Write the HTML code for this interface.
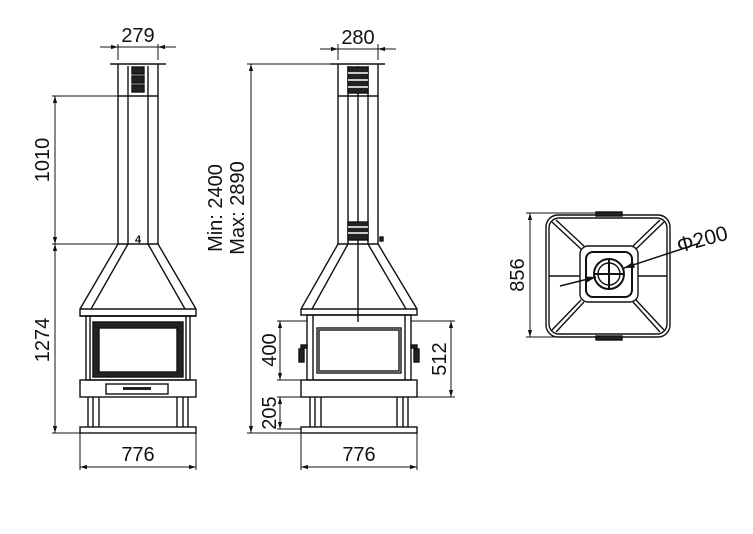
<!DOCTYPE html>
<html><head><meta charset="utf-8"><style>html,body{margin:0;padding:0;background:#fff}svg{display:block}</style></head>
<body>
<svg width="753" height="534" viewBox="0 0 753 534" xmlns="http://www.w3.org/2000/svg" font-family="Liberation Sans, sans-serif" fill="none" stroke="#111" stroke-width="1.4">
<defs>
<marker id="a" viewBox="0 0 10 10" refX="10" refY="5" markerWidth="7" markerHeight="7" orient="auto-start-reverse"><path d="M0,2L10,5L0,8z" fill="#111" stroke="none"/></marker>
</defs>
<!-- LEFT VIEW -->
<g>
<line x1="110" y1="64" x2="166" y2="64"/>
<line x1="118" y1="64" x2="118" y2="244"/><line x1="158" y1="64" x2="158" y2="244"/>
<line x1="128" y1="66" x2="128" y2="244"/><line x1="148" y1="66" x2="148" y2="244"/>
<rect x="132" y="67" width="12" height="7" fill="#222"/><rect x="132" y="76" width="12" height="7" fill="#222"/><rect x="132" y="85" width="12" height="7" fill="#222"/>
<line x1="118" y1="96" x2="158" y2="96"/>
<line x1="118" y1="244" x2="158" y2="244"/>
<text x="138" y="243" font-size="11" font-weight="bold" fill="#111" stroke="none" text-anchor="middle">4</text>
<polyline points="118,244 80,309 80,316 196,316 196,309 158,244"/>
<polyline points="128,244 91,309"/><polyline points="148,244 185,309"/>
<line x1="80" y1="309" x2="196" y2="309"/>
<line x1="80" y1="316" x2="196" y2="316"/>
<rect x="86" y="316" width="104" height="64"/>
<line x1="90" y1="316" x2="90" y2="380"/><line x1="186" y1="316" x2="186" y2="380"/>
<rect x="93" y="322" width="90" height="55" fill="#222"/>
<rect x="99" y="328" width="78" height="44" fill="#fff" stroke="#111"/>
<rect x="80" y="380" width="116" height="17"/>
<rect x="106" y="384" width="62" height="10"/>
<rect x="123" y="387" width="28" height="3" fill="#222" stroke="none"/>
<line x1="88" y1="397" x2="88" y2="427"/><line x1="93" y1="397" x2="93" y2="427"/><line x1="99" y1="397" x2="99" y2="427"/>
<line x1="177" y1="397" x2="177" y2="427"/><line x1="183" y1="397" x2="183" y2="427"/><line x1="188" y1="397" x2="188" y2="427"/>
<rect x="80" y="427" width="116" height="6"/>
</g>
<!-- left dims -->
<g stroke-width="1">
<line x1="118" y1="60" x2="118" y2="44"/><line x1="158" y1="60" x2="158" y2="44"/>
<line x1="100" y1="47" x2="118" y2="47" marker-end="url(#a)"/><line x1="176" y1="47" x2="158" y2="47" marker-end="url(#a)"/>
<line x1="118" y1="47" x2="158" y2="47"/>
<line x1="52" y1="96" x2="118" y2="96"/><line x1="52" y1="244" x2="118" y2="244"/><line x1="52" y1="433" x2="80" y2="433"/>
<line x1="55" y1="96" x2="55" y2="244" marker-start="url(#a)" marker-end="url(#a)"/>
<line x1="55" y1="244" x2="55" y2="433" marker-start="url(#a)" marker-end="url(#a)"/>
<line x1="80" y1="433" x2="80" y2="470"/><line x1="196" y1="433" x2="196" y2="470"/>
<line x1="80" y1="467" x2="196" y2="467" marker-start="url(#a)" marker-end="url(#a)"/>
</g>
<g fill="#111" stroke="none" font-size="20">
<text x="138" y="42" text-anchor="middle">279</text>
<text x="138" y="461" text-anchor="middle">776</text>
<text transform="translate(49,160) rotate(-90)" text-anchor="middle">1010</text>
<text transform="translate(49,340) rotate(-90)" text-anchor="middle">1274</text>
</g>
<!-- MIDDLE VIEW -->
<g>
<line x1="330" y1="64" x2="385" y2="64"/>
<line x1="338" y1="64" x2="338" y2="244"/><line x1="378" y1="64" x2="378" y2="244"/>
<line x1="348" y1="66" x2="348" y2="244"/><line x1="368" y1="66" x2="368" y2="244"/>
<line x1="358" y1="66" x2="358" y2="322"/>
<rect x="348" y="67" width="20" height="26" fill="#222"/>
<line x1="348" y1="73" x2="368" y2="73" stroke="#fff"/><line x1="348" y1="80" x2="368" y2="80" stroke="#fff"/><line x1="348" y1="87" x2="368" y2="87" stroke="#fff"/>
<line x1="338" y1="96" x2="378" y2="96"/>
<rect x="348" y="222" width="20" height="18" fill="#222"/>
<line x1="348" y1="227" x2="368" y2="227" stroke="#fff"/><line x1="348" y1="233" x2="368" y2="233" stroke="#fff"/>
<rect x="380" y="237" width="3" height="4" fill="#222"/>
<line x1="338" y1="244" x2="378" y2="244"/>
<polyline points="338,244 301,309 301,315 417,315 417,309 378,244"/>
<line x1="348" y1="244" x2="312" y2="309"/><line x1="368" y1="244" x2="406" y2="309"/>
<line x1="301" y1="309" x2="417" y2="309"/>
<rect x="307" y="315" width="104" height="65"/>
<line x1="313" y1="315" x2="313" y2="380"/><line x1="405" y1="315" x2="405" y2="380"/>
<rect x="317" y="328" width="84" height="45"/><rect x="319" y="330" width="80" height="41"/>
<rect x="299" y="349" width="5" height="13" fill="#222"/><rect x="301" y="345" width="6" height="3" fill="#222"/>
<rect x="414" y="349" width="5" height="13" fill="#222"/><rect x="411" y="345" width="6" height="3" fill="#222"/>
<rect x="301" y="380" width="116" height="17"/>
<line x1="310" y1="397" x2="310" y2="427"/><line x1="315" y1="397" x2="315" y2="427"/><line x1="321" y1="397" x2="321" y2="427"/>
<line x1="397" y1="397" x2="397" y2="427"/><line x1="403" y1="397" x2="403" y2="427"/><line x1="408" y1="397" x2="408" y2="427"/>
<rect x="301" y="427" width="116" height="6"/>
</g>
<g stroke-width="1">
<line x1="338" y1="60" x2="338" y2="44"/><line x1="378" y1="60" x2="378" y2="44"/>
<line x1="320" y1="49" x2="338" y2="49" marker-end="url(#a)"/><line x1="396" y1="49" x2="378" y2="49" marker-end="url(#a)"/>
<line x1="338" y1="49" x2="378" y2="49"/>
<line x1="247" y1="64" x2="338" y2="64"/><line x1="247" y1="433" x2="301" y2="433"/>
<line x1="251" y1="64" x2="251" y2="433" marker-start="url(#a)" marker-end="url(#a)"/>
<line x1="277" y1="321" x2="307" y2="321"/><line x1="277" y1="380" x2="301" y2="380"/>
<line x1="280" y1="321" x2="280" y2="380" marker-start="url(#a)" marker-end="url(#a)"/>
<line x1="277" y1="397" x2="301" y2="397"/><line x1="277" y1="429" x2="301" y2="429"/>
<line x1="280" y1="397" x2="280" y2="429" marker-start="url(#a)" marker-end="url(#a)"/>
<line x1="411" y1="321" x2="455" y2="321"/><line x1="417" y1="397" x2="455" y2="397"/>
<line x1="451" y1="321" x2="451" y2="397" marker-start="url(#a)" marker-end="url(#a)"/>
<line x1="301" y1="433" x2="301" y2="470"/><line x1="417" y1="433" x2="417" y2="470"/>
<line x1="301" y1="467" x2="417" y2="467" marker-start="url(#a)" marker-end="url(#a)"/>
</g>
<g fill="#111" stroke="none" font-size="20">
<text x="358" y="44" text-anchor="middle">280</text>
<text x="359" y="461" text-anchor="middle">776</text>
<text transform="translate(222,208) rotate(-90)" text-anchor="middle">Min: 2400</text>
<text transform="translate(244,208) rotate(-90)" text-anchor="middle">Max: 2890</text>
<text transform="translate(276,350) rotate(-90)" text-anchor="middle">400</text>
<text transform="translate(276,413) rotate(-90)" text-anchor="middle">205</text>
<text transform="translate(446,359) rotate(-90)" text-anchor="middle">512</text>
</g>
<!-- RIGHT VIEW -->
<g>
<rect x="546" y="215" width="124" height="122" rx="12"/>
<rect x="549" y="218" width="118" height="116" rx="10"/>
<rect x="580" y="246" width="58" height="56" rx="8"/>
<rect x="586" y="252" width="46" height="45" rx="7" stroke-width="2"/>
<circle cx="609" cy="274" r="15" stroke-width="2"/>
<circle cx="609" cy="274" r="11"/>
<line x1="594" y1="274" x2="624" y2="274" stroke-width="2"/><line x1="609" y1="259" x2="609" y2="289" stroke-width="2"/>
<line x1="552" y1="222" x2="581" y2="249"/><line x1="556" y1="220" x2="584" y2="246"/>
<line x1="664" y1="222" x2="636" y2="249"/><line x1="660" y1="220" x2="633" y2="246"/>
<line x1="552" y1="330" x2="581" y2="300"/><line x1="556" y1="332" x2="584" y2="302"/>
<line x1="664" y1="330" x2="636" y2="300"/><line x1="660" y1="332" x2="633" y2="302"/>
<line x1="549" y1="276" x2="580" y2="276"/><line x1="638" y1="276" x2="667" y2="276"/>
<rect x="596" y="212" width="26" height="4" fill="#222"/>
<rect x="596" y="336" width="26" height="4" fill="#222"/>
<line x1="560" y1="286" x2="596" y2="277" stroke-width="1.5" marker-end="url(#a)"/>
<line x1="700" y1="243" x2="624" y2="268" stroke-width="1.5" marker-end="url(#a)"/>
</g>
<g stroke-width="1">
<line x1="526" y1="213" x2="600" y2="213"/><line x1="526" y1="337" x2="600" y2="337"/>
<line x1="530" y1="213" x2="530" y2="337" marker-start="url(#a)" marker-end="url(#a)"/>
</g>
<g fill="#111" stroke="none" font-size="20">
<text transform="translate(524,275) rotate(-90)" text-anchor="middle">856</text>
<text transform="translate(704,246) rotate(-15)" text-anchor="middle" font-size="21">Φ200</text>
</g>
</svg>
</body></html>
